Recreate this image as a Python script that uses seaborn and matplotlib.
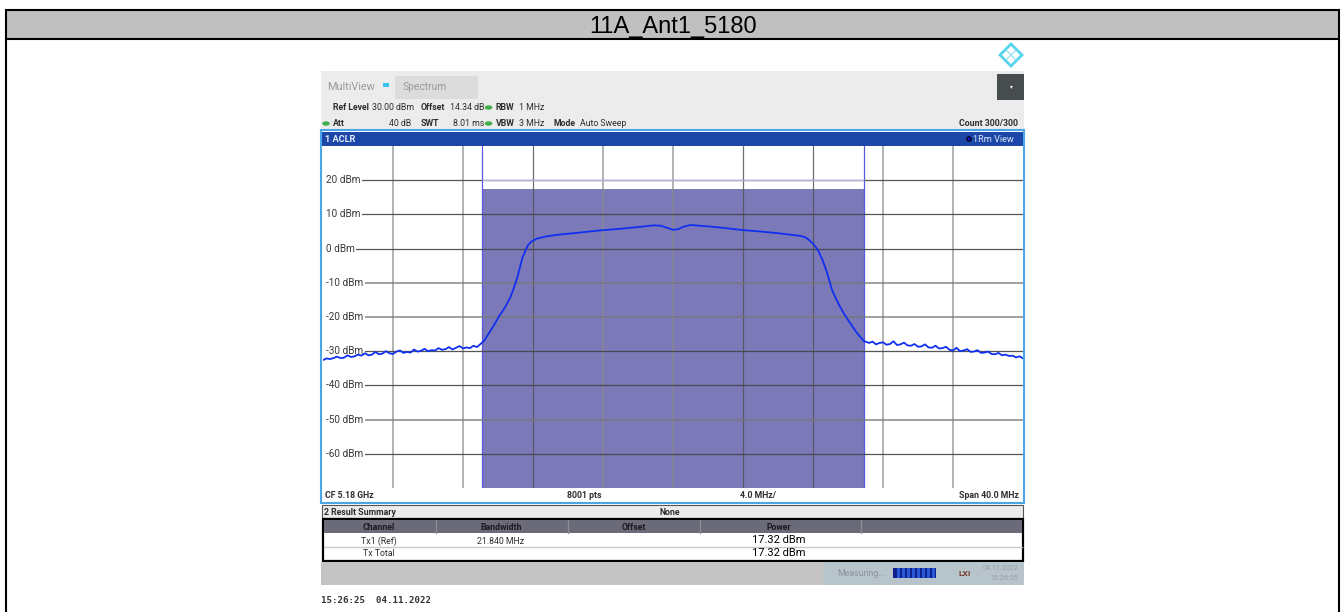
import matplotlib

matplotlib.use('Agg')
import matplotlib.pyplot as plt
import matplotlib.patches as mpatches
import pandas as pd
import seaborn as sns

# values
freq_left = [-20.0, -19.8, -19.6, -19.4, -19.2, -19.0, -18.8, -18.6, -18.4, -18.2, -18.0, -17.8,
             -17.6, -17.4, -17.2, -17.0, -16.8, -16.6, -16.4, -16.2, -16.0, -15.8, -15.6, -15.4,
             -15.2, -15.0, -14.8, -14.6, -14.4, -14.2, -14.0, -13.8, -13.6, -13.4, -13.2, -13.0,
             -12.8, -12.6, -12.4, -12.2, -12.0, -11.8, -11.6, -11.4, -11.2, -11.0]
level_left = [-32.6, -32.1, -32.3, -32.0, -31.6, -32.0, -31.9, -31.2, -31.7, -31.5, -31.0, -31.3,
              -30.6, -31.2, -31.0, -30.2, -30.9, -30.7, -30.0, -30.6, -30.8, -30.1, -29.8, -30.5,
              -30.2, -30.4, -29.5, -30.1, -29.9, -29.3, -30.0, -29.7, -29.8, -29.1, -29.6, -29.4,
              -28.8, -29.5, -29.0, -28.5, -29.2, -28.9, -29.1, -28.4, -28.8, -27.9]
freq_rise = [-10.8, -10.6, -10.3, -9.9, -9.6, -9.3, -9.1, -8.9, -8.75, -8.6, -8.45, -8.3, -8.1,
             -7.8, -7.2, -6.5, -5.5, -4.2, -3.0, -2.0, -1.1, -0.7, -0.3, 0.0, 0.3, 0.6, 1.0, 2.0,
             3.0, 4.0, 5.0, 6.0, 6.8, 7.3, 7.6, 7.8]
level_rise = [-27.0, -25.4, -23.0, -19.5, -17.2, -14.3, -11.6, -8.5, -5.5, -2.6, -0.8, 0.9, 2.0,
              2.9, 3.6, 4.1, 4.6, 5.3, 5.8, 6.3, 6.8, 6.7, 6.0, 5.5, 5.7, 6.4, 6.9, 6.5, 6.0,
              5.4, 5.0, 4.5, 4.0, 3.7, 3.2, 2.4]
freq_fall = [8.05, 8.3, 8.55, 8.8, 9.1, 9.5, 9.8, 10.1, 10.5, 10.9]
level_fall = [1.2, -0.6, -3.4, -7.0, -12.3, -16.6, -19.3, -21.6, -24.6, -27.0]
freq_right = [11.2, 11.4, 11.6, 11.8, 12.0, 12.2, 12.4, 12.6, 12.8, 13.0, 13.2, 13.4, 13.6, 13.8,
              14.0, 14.2, 14.4, 14.6, 14.8, 15.0, 15.2, 15.4, 15.6, 15.8, 16.0, 16.2, 16.4, 16.6,
              16.8, 17.0, 17.2, 17.4, 17.6, 17.8, 18.0, 18.2, 18.4, 18.6, 18.8, 19.0, 19.2, 19.4,
              19.6, 19.8, 20.0]
level_right = [-27.6, -27.2, -28.0, -27.6, -27.4, -28.1, -27.9, -27.1, -28.2, -28.0, -27.5, -28.3,
               -28.4, -27.9, -28.7, -28.6, -28.0, -28.9, -29.0, -28.4, -29.2, -29.1, -28.7, -29.6,
               -29.8, -29.0, -30.0, -29.8, -29.4, -30.2, -30.1, -29.7, -30.5, -30.4, -30.1, -30.8,
               -30.9, -30.5, -31.2, -31.0, -31.4, -31.3, -31.8, -31.5, -32.1]

obw_mhz = 21.84
total_power = 17.32
line_limit = 20
dbm_ticks = [20, 10, 0, -10, -20, -30, -40, -50, -60]
freq_grid = [-16, -12, -8, -4, 0, 4, 8, 12, 16]

row_channels = ['Tx1 (Ref)', 'Tx Total']
col_names = ['Channel', 'Bandwidth', 'Offset', 'Power']

SANS = ['Roboto', 'DejaVu Sans']
TEXT = '#2e2e2e'

sns.set_theme(style='white')
plt.rcParams['font.family'] = SANS

fig = plt.figure(figsize=(13.44, 6.12), dpi=100, facecolor='white')

# page layer in pixel coordinates for the instrument screen furniture
bg = fig.add_axes([0, 0, 1, 1])
bg.set_xlim(0, 1344)
bg.set_ylim(612, 0)
bg.axis('off')


def box(x0, y0, x1, y1, color, edge='none', lw=0, z=1):
    bg.add_patch(mpatches.Rectangle((x0, y0), x1 - x0, y1 - y0, facecolor=color,
                                    edgecolor=edge, linewidth=lw, zorder=z))


def label(x, y, s, size=6.3, weight='normal', color=TEXT, ha='left', **kw):
    bg.text(x, y, s, fontsize=size, fontweight=weight, color=color, ha=ha, va='center', zorder=5, **kw)


# outer frame and title, the frame runs off the bottom of the page
box(6, 10, 1339, 39, '#c0c0c0')
bg.plot([6, 6], [10, 612], color='black', lw=1.5, zorder=2, solid_capstyle='projecting')
bg.plot([1339, 1339], [10, 612], color='black', lw=1.5, zorder=2, solid_capstyle='projecting')
bg.plot([6, 1339], [10, 10], color='black', lw=1.5, zorder=2)
bg.plot([6, 1339], [39, 39], color='black', lw=1.5, zorder=2)
bg.text(673, 27, '11A_Ant1_5180', fontsize=17, color='black', ha='center', va='center',
        family='Liberation Sans', zorder=5)

# top panel
box(321, 71, 1024, 131, '#ececec')
box(395, 76, 478, 99, '#dcdcdc')
box(997, 74, 1024, 100, '#474c4e')
bg.text(1011, 87, '▾', fontsize=4, color='white', ha='center', va='center', family='DejaVu Sans', zorder=5)
label(327, 87, 'MultiView', size=7.8, color='#9a9a9a')
box(383, 83, 389, 87, '#35c3f0', z=2)
label(403, 87, 'Spectrum', size=7.4, color='#9a9a9a')

# logo
bg.add_patch(mpatches.RegularPolygon((1011, 55), 4, radius=11, facecolor='white', edgecolor='#55d4ec', linewidth=2.0, zorder=3))
bg.plot([1006, 1016], [50, 60], color='#8fdff0', lw=0.8, zorder=4)
bg.plot([1006, 1016], [60, 50], color='#8fdff0', lw=0.8, zorder=4)

label(333, 107.5, 'Ref Level', weight='bold')
label(372, 107.5, '30.00 dBm')
label(421, 107.5, 'Offset', weight='bold')
label(450, 107.5, '14.34 dB')
label(496, 107.5, 'RBW', weight='bold')
label(519, 107.5, '1 MHz')
label(333, 123.5, 'Att', weight='bold')
label(389, 123.5, '40 dB')
label(421, 123.5, 'SWT', weight='bold')
label(453, 123.5, '8.01 ms')
label(496, 123.5, 'VBW', weight='bold')
label(519, 123.5, '3 MHz')
label(554, 123.5, 'Mode', weight='bold')
label(580, 123.5, 'Auto Sweep')
label(1018, 123.5, 'Count 300/300', weight='bold', ha='right')
for gx, gy in [(488.5, 107.5), (488.5, 123.5), (326, 123.5)]:
    bg.add_patch(mpatches.Ellipse((gx, gy), 6, 3, color='#3fae49', zorder=4))

# trace window chrome
box(321, 130, 1024, 503, 'white', edge='#4aa6e6', lw=1.5, z=1)
box(322, 131.5, 1023, 146, '#1c47a8', z=2)
label(325, 139, '1 ACLR', size=6.6, weight='bold', color='#e8eefc')
label(1014, 139, '1Rm View', size=6.6, color='#dfe8fb', ha='right')
bg.add_patch(mpatches.Circle((969, 139), 2.2, facecolor='#1010d0', edgecolor='black', linewidth=0.8, zorder=5))
label(325, 495.5, 'CF 5.18 GHz', weight='bold')
label(567, 495.5, '8001 pts', weight='bold')
label(740, 495.5, '4.0 MHz/', weight='bold')
label(1019, 495.5, 'Span 40.0 MHz', weight='bold', ha='right')

# result summary
box(322, 505, 1023, 518, '#ececec', edge='#555555', lw=0.8)
label(324, 512.5, '2 Result Summary', weight='bold')
label(660, 512.5, 'None', weight='bold')
box(323, 519, 1023, 561, 'white', edge='black', lw=1.6)
box(324, 520, 1022, 533, '#6b6a78', z=2)
for sep in [436, 568, 700, 861]:
    bg.plot([sep, sep], [520, 533], color='#8d8d98', lw=1, zorder=3)
bg.plot([324, 1022], [547, 547], color='#c8c8c8', lw=1, zorder=3)
for centre, name in zip([379, 501, 634, 779], col_names):
    label(centre, 527, name, weight='bold', ha='center', color='#1b1b22')
for row_y, name in zip([541, 554], row_channels):
    label(379, row_y, name, ha='center')
label(501, 541, f'{obw_mhz:.3f} MHz', ha='center')
for row_y in [540, 553]:
    label(779, row_y, f'{total_power:.2f} dBm', size=8, ha='center', color='black')

# status bar
box(321, 562, 823, 585, '#c4c4c4')
box(823, 562, 1024, 585, '#b7c4cc')
label(837, 574, 'Measuring...', color='#8a949a')
box(893, 568, 936, 578, '#10208a', z=2)
for seg in range(897, 934, 5):
    box(seg, 568, seg + 3, 578, '#2a56d8', z=3)
label(965, 574, 'LXI', size=6, weight='bold', color='#7a3b2a', ha='center')
label(1018, 568.5, '04.11.2022', size=5.2, color='#97a1a8', ha='right')
label(1018, 579, '15:26:25', size=5.2, color='#97a1a8', ha='right')
bg.text(321, 600.5, '15:26:25  04.11.2022', fontsize=6.6, family='DejaVu Sans Mono', fontweight='bold',
        color='#333333', ha='left', va='center', zorder=5)

# spectrum axes, pixel box 323..1023 x 146..488
ax = fig.add_axes([323 / 1344, 1 - 488 / 612, 700 / 1344, 342 / 612])
ax.set_xlim(-20, 20)
ax.set_ylim(-70, 30)
ax.set_xticks([])
ax.set_yticks([])
ax.set_facecolor('white')
ax.set_zorder(3)
for side in ax.spines.values():
    side.set_visible(False)

ax.axvspan(-obw_mhz / 2, obw_mhz / 2, ymax=(total_power + 70) / 100, color='#7c79b9', lw=0, zorder=1)
ax.axvline(-obw_mhz / 2, color='#5a58e0', lw=0.9, zorder=2)
ax.axvline(obw_mhz / 2, color='#5a58e0', lw=0.9, zorder=2)

# darker lines land on whole pixels in the original, the others are resampled to grey
for f in freq_grid:
    faint = f in (-16, -12, -4, 0, 12, 16)
    ax.axvline(f, color='#555555' if not faint else '#8a8a8a', lw=0.9 if not faint else 1.3,
               alpha=0.85 if not faint else 0.7, zorder=3)
for d in dbm_ticks:
    faint = d in (-10, -20, -50)
    ax.hlines(d, -19.7, 20, color='#444444' if not faint else '#777777', lw=0.9 if not faint else 1.3,
              alpha=0.9 if not faint else 0.75, zorder=3)
    ax.text(-19.8, d, f'{d} dBm', fontsize=7.2, color='#3a3a3a', ha='left', va='center', zorder=4,
            bbox=dict(facecolor='white', edgecolor='none', pad=0.6))
ax.hlines(line_limit, -obw_mhz / 2, obw_mhz / 2, color='#b4b2dc', lw=1.0, zorder=3.5)

trace = pd.DataFrame({
    'freq': freq_left + freq_rise + freq_fall + freq_right,
    'level': level_left + level_rise + level_fall + level_right,
})
sns.lineplot(data=trace, x='freq', y='level', ax=ax, color='#1030f0', lw=1.3, estimator=None,
             sort=False, zorder=5)
ax.set_xlabel('')
ax.set_ylabel('')

fig.savefig('out.png', dpi=100)
